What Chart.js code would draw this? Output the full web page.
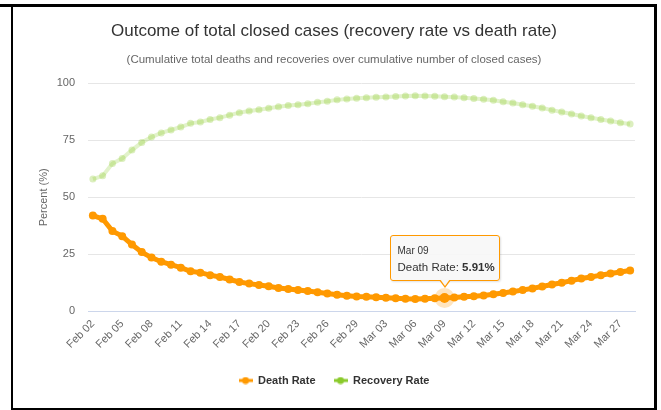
<!DOCTYPE html>
<html lang="en">
  <head>
    <meta charset="UTF-8" />
    <title>Outcome of total closed cases</title>
    <script src="https://cdn.jsdelivr.net/npm/chart.js"></script>
    <style>
      body {
        margin: 0;
        background: #fff;
        font-family: "Liberation Sans", Arial, sans-serif;
      }
      .frame {
        position: absolute;
        background: #000;
      }
      .chart-box {
        position: absolute;
        left: 13px;
        top: 7px;
        width: 641px;
        height: 400px;
      }
      #tip {
        position: absolute;
        box-sizing: border-box;
        width: 110px;
        height: 46px;
        padding: 9px 0 0 7px;
        background: rgba(247, 247, 247, 0.9);
        border: 1px solid #f90;
        border-radius: 3px;
        box-shadow: 1px 1px 2px rgba(0, 0, 0, 0.12);
        color: #333;
        white-space: nowrap;
      }
      #tip .date {
        font-size: 10px;
        line-height: 12px;
      }
      #tip .body {
        font-size: 11.5px;
        line-height: 16px;
        margin-top: 2px;
      }
      #tip::before,
      #tip::after {
        content: "";
        position: absolute;
        left: 50%;
        border-style: solid;
        border-color: transparent;
      }
      #tip::before {
        bottom: -8px;
        margin-left: -6px;
        border-width: 8px 6px 0 6px;
        border-top-color: #f90;
      }
      #tip::after {
        bottom: -6px;
        margin-left: -5px;
        border-width: 7px 5px 0 5px;
        border-top-color: #f7f7f7;
      }
    </style>
  </head>

  <body>
    <div class="frame" style="left: 0; top: 4px; width: 657px; height: 3px"></div>
    <div class="frame" style="left: 11px; top: 4px; width: 2px; height: 406px"></div>
    <div class="frame" style="left: 654px; top: 4px; width: 3px; height: 406px"></div>
    <div class="frame" style="left: 11px; top: 408px; width: 646px; height: 2px"></div>

    <div class="chart-box"><canvas id="closedChart"></canvas></div>
    <div id="tip"><div class="date"></div><div class="body"></div></div>

    <script>
      const FONT = "'Liberation Sans', Arial, sans-serif";

      const categories = [
        "Feb 02", "Feb 03", "Feb 04", "Feb 05", "Feb 06", "Feb 07", "Feb 08",
        "Feb 09", "Feb 10", "Feb 11", "Feb 12", "Feb 13", "Feb 14", "Feb 15",
        "Feb 16", "Feb 17", "Feb 18", "Feb 19", "Feb 20", "Feb 21", "Feb 22",
        "Feb 23", "Feb 24", "Feb 25", "Feb 26", "Feb 27", "Feb 28", "Feb 29",
        "Mar 01", "Mar 02", "Mar 03", "Mar 04", "Mar 05", "Mar 06", "Mar 07",
        "Mar 08", "Mar 09", "Mar 10", "Mar 11", "Mar 12", "Mar 13", "Mar 14",
        "Mar 15", "Mar 16", "Mar 17", "Mar 18", "Mar 19", "Mar 20", "Mar 21",
        "Mar 22", "Mar 23", "Mar 24", "Mar 25", "Mar 26", "Mar 27", "Mar 28",
      ];

      // percent of closed cases
      const deathRate = [
        42.0, 40.6, 35.2, 33.0, 29.3, 26.0, 23.6, 21.8, 20.5, 19.2,
        17.6, 17.0, 15.9, 15.1, 14.0, 12.9, 12.2, 11.6, 11.0, 10.3,
        9.8, 9.4, 9.0, 8.4, 7.9, 7.3, 6.9, 6.6, 6.4, 6.2,
        6.0, 5.8, 5.6, 5.5, 5.6, 5.75, 5.91, 6.1, 6.4, 6.7,
        7.0, 7.5, 8.1, 8.7, 9.4, 10.1, 10.9, 11.8, 12.6, 13.5,
        14.4, 15.1, 15.9, 16.6, 17.3, 17.9,
      ];

      const recoveryRate = [
        58.0, 59.4, 64.8, 67.0, 70.7, 74.0, 76.4, 78.2, 79.5, 80.8,
        82.4, 83.0, 84.1, 84.9, 86.0, 87.1, 87.8, 88.4, 89.0, 89.7,
        90.2, 90.6, 91.0, 91.6, 92.1, 92.7, 93.1, 93.4, 93.6, 93.8,
        94.0, 94.2, 94.4, 94.5, 94.4, 94.25, 94.09, 93.9, 93.6, 93.3,
        93.0, 92.5, 91.9, 91.3, 90.6, 89.9, 89.1, 88.2, 87.4, 86.5,
        85.6, 84.9, 84.1, 83.4, 82.7, 82.1,
      ];

      const yTicks = [0, 25, 50, 75, 100];
      const hoverIndex = 36; // Mar 09

      function legendIcon(color) {
        const c = document.createElement("canvas");
        c.width = 14;
        c.height = 8;
        const g = c.getContext("2d");
        g.fillStyle = color;
        g.fillRect(0, 2.5, 14, 3);
        g.beginPath();
        g.arc(7, 4, 3.5, 0, Math.PI * 2);
        g.fill();
        return c;
      }
      const legendIcons = [legendIcon("#ff9900"), legendIcon("#8aca2b")];

      const chart = new Chart(document.getElementById("closedChart"), {
        type: "line",
        data: {
          labels: categories,
          datasets: [
            {
              label: "Death Rate",
              data: deathRate,
              borderColor: "#ff9900",
              backgroundColor: "#ff9900",
              borderWidth: 5,
              pointRadius: 4,
              pointBorderWidth: 0,
              pointHoverRadius: 5,
              pointHoverBackgroundColor: "#ff9900",
              pointHoverBorderColor: "rgba(255, 153, 0, 0.25)",
              pointHoverBorderWidth: 10,
              tension: 0,
            },
            {
              label: "Recovery Rate",
              data: recoveryRate,
              borderColor: "rgba(138, 202, 43, 0.25)",
              backgroundColor: "rgba(138, 202, 43, 0.3)",
              borderWidth: 4,
              pointRadius: 3.5,
              pointBorderWidth: 0,
              tension: 0,
            },
          ],
        },
        options: {
          responsive: true,
          maintainAspectRatio: false,
          animation: false,
          events: [],
          layout: { padding: { left: 20, right: 19, top: 0, bottom: 11 } },
          plugins: {
            title: {
              display: true,
              text: "Outcome of total closed cases (recovery rate vs death rate)",
              color: "#333",
              font: { family: FONT, size: 17, weight: "normal" },
              padding: { top: 14, bottom: 9 },
            },
            subtitle: {
              display: true,
              text: "(Cumulative total deaths and recoveries over cumulative number of closed cases)",
              color: "#666",
              font: { family: FONT, size: 11.5 },
              padding: { top: 3, bottom: 16 },
            },
            legend: {
              position: "bottom",
              labels: {
                usePointStyle: true,
                pointStyleWidth: 14,
                padding: 18,
                color: "#333",
                font: { family: FONT, size: 11, weight: "bold" },
                generateLabels(c) {
                  const items = Chart.defaults.plugins.legend.labels.generateLabels(c);
                  items.forEach((it, i) => (it.pointStyle = legendIcons[i]));
                  return items;
                },
              },
            },
            tooltip: { enabled: false },
          },
          scales: {
            x: {
              offset: true,
              grid: { display: false, drawTicks: false },
              border: { color: "#ccd6eb" },
              ticks: {
                autoSkip: false,
                minRotation: 45,
                maxRotation: 45,
                padding: 6,
                color: "#666",
                font: { family: FONT, size: 11 },
                callback: (v, i) => (i % 3 === 0 ? categories[i] : ""),
              },
            },
            y: {
              min: 0,
              max: 100,
              afterBuildTicks: (s) => (s.ticks = yTicks.map((v) => ({ value: v }))),
              afterFit: (s) => (s.width = 55),
              grid: { color: "#e6e6e6", drawTicks: false },
              border: { display: false },
              ticks: {
                padding: 13,
                color: "#666",
                font: { family: FONT, size: 11 },
              },
              title: {
                display: true,
                text: "Percent (%)",
                color: "#666",
                font: { family: FONT, size: 11 },
              },
            },
          },
        },
      });

      chart.setActiveElements([{ datasetIndex: 0, index: hoverIndex }]);
      chart.update();

      // hover label like the original page
      const pt = chart.getDatasetMeta(0).data[hoverIndex];
      const box = document.querySelector(".chart-box");
      const tip = document.getElementById("tip");
      tip.querySelector(".date").textContent = categories[hoverIndex];
      tip.querySelector(".body").innerHTML =
        "Death Rate: <b>" + deathRate[hoverIndex].toFixed(2) + "%</b>";
      tip.style.left = box.offsetLeft + pt.x - 55 + "px";
      tip.style.top = box.offsetTop + pt.y - 17 - 46 + "px";
    </script>
  </body>
</html>
